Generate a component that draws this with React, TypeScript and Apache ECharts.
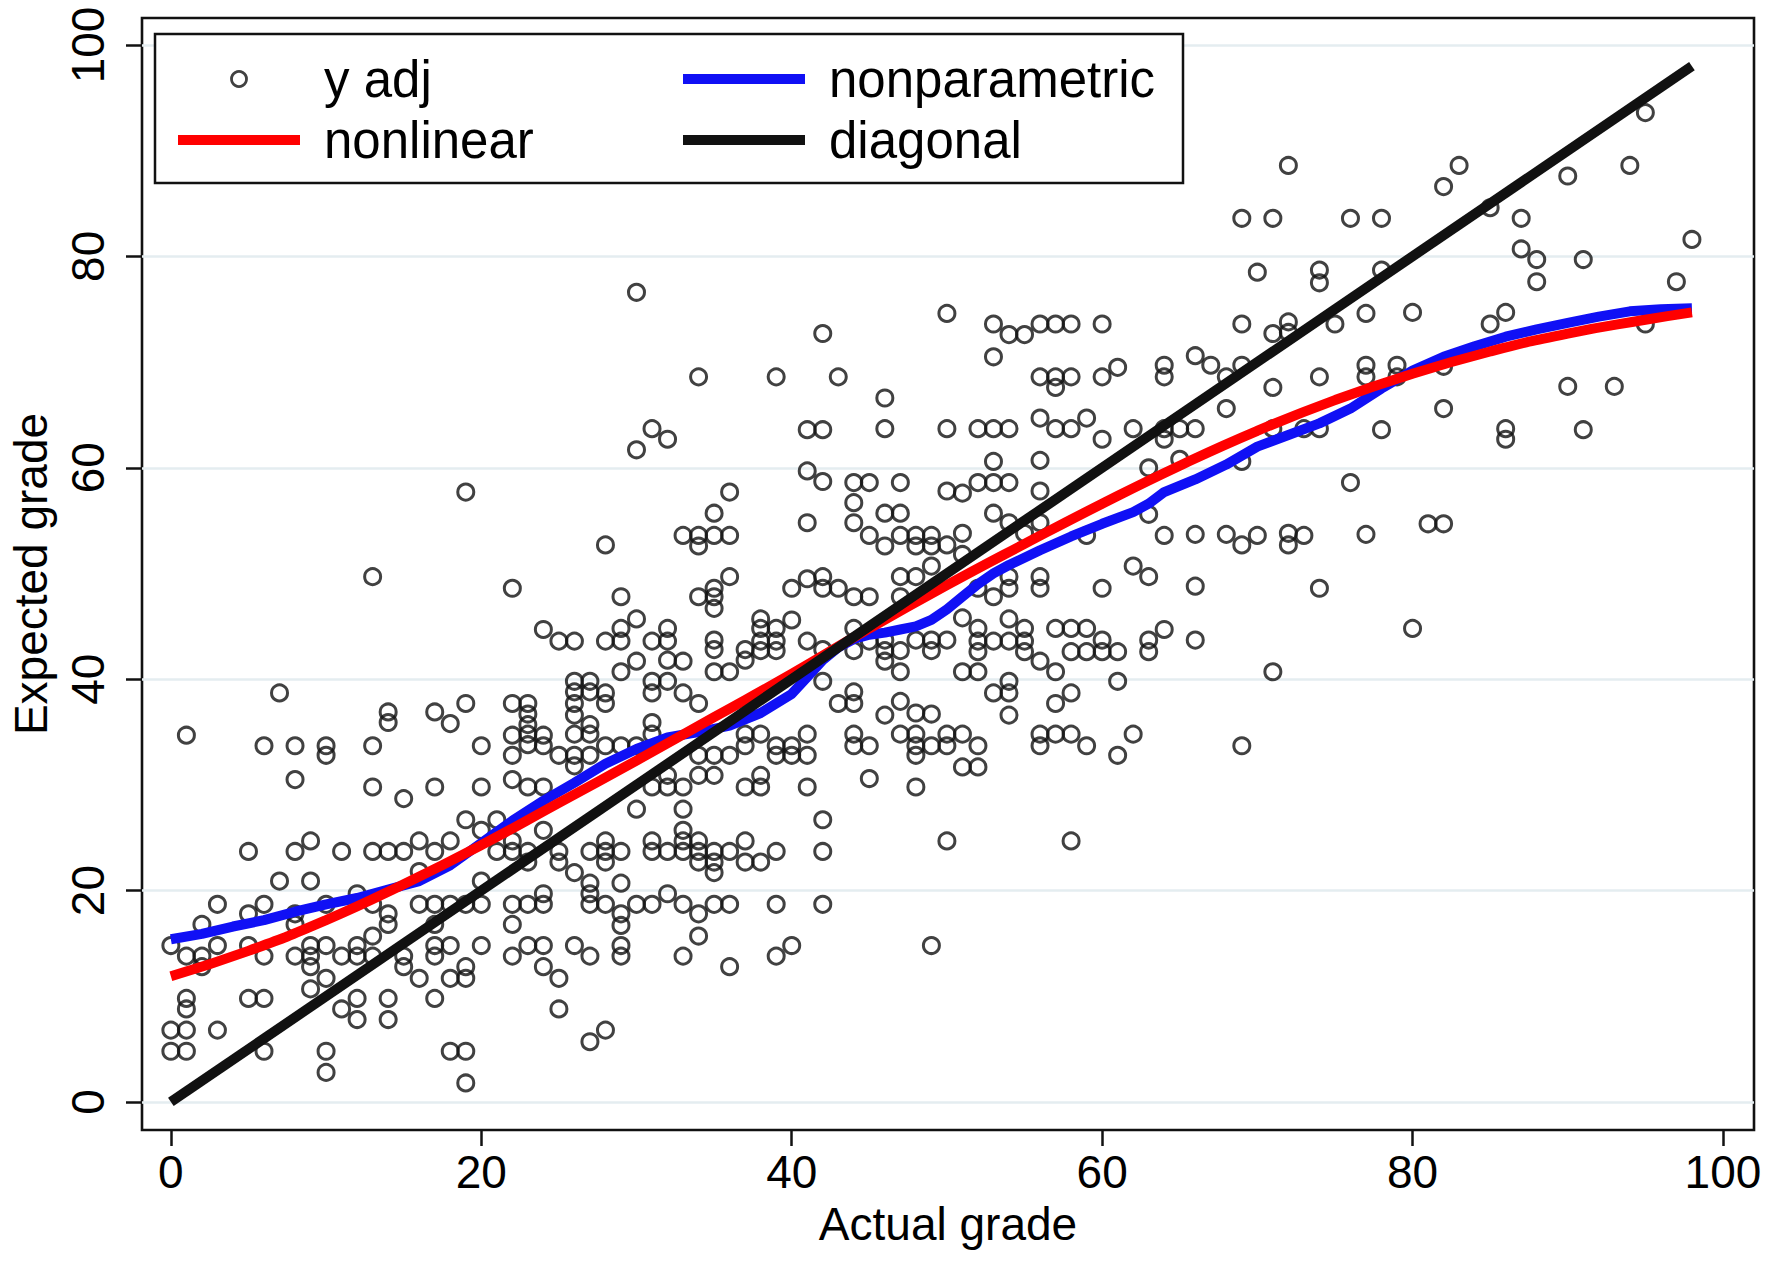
import { useEffect, useRef } from 'react';
import * as echarts from 'echarts';

// tick positions shared by both axes
const TICKS = [0, 20, 40, 60, 80, 100];

// observed points (actual grade, adjusted expected grade)
const Y_ADJ: [number, number][] = [
  // x 0-24, lower band
  [8, 30.5], [22, 30.5], [13, 29.8], [17, 29.8], [20, 29.8], [23, 29.8], [24, 29.8],
  [15, 28.7], [19, 26.7], [21, 26.7], [20, 25.7], [24, 25.7],
  [9, 24.7], [16, 24.7], [18, 24.7], [22, 24.7],
  [5, 23.7], [8, 23.7], [11, 23.7], [13, 23.7], [14, 23.7], [15, 23.7], [17, 23.7], [21, 23.7], [22, 23.7], [23, 23.7],
  [23, 22.7], [16, 21.8], [7, 20.9], [9, 20.9], [20, 20.9], [12, 19.7], [24, 19.7],
  [3, 18.7], [6, 18.7], [10, 18.7], [13, 18.7], [16, 18.7], [17, 18.7], [18, 18.7], [19, 18.7], [20, 18.7], [22, 18.7], [23, 18.7], [24, 18.7],
  [5, 17.8], [8, 17.8], [14, 17.8],
  [2, 16.8], [8, 16.8], [14, 16.8], [17, 16.8], [22, 16.8], [13, 15.7],
  [0, 14.8], [3, 14.8], [5, 14.8], [9, 14.8], [10, 14.8], [12, 14.8], [17, 14.8], [18, 14.8], [20, 14.8], [23, 14.8], [24, 14.8],
  [1, 13.8], [2, 13.8], [6, 13.8], [8, 13.8], [9, 13.8], [11, 13.8], [12, 13.8], [13, 13.8], [15, 13.8], [17, 13.8], [22, 13.8],
  [2, 12.8], [9, 12.8], [15, 12.8], [19, 12.8], [24, 12.8],
  [10, 11.7], [16, 11.7], [18, 11.7], [19, 11.7], [9, 10.7],
  [1, 9.8], [5, 9.8], [6, 9.8], [12, 9.8], [14, 9.8], [17, 9.8],
  [1, 8.8], [11, 8.8], [12, 7.8], [14, 7.8], [0, 6.8], [1, 6.8], [3, 6.8],
  [0, 4.8], [1, 4.8], [6, 4.8], [10, 4.8], [18, 4.8], [19, 4.8], [10, 2.8], [19, 1.8],
  // x 0-24, upper band
  [19, 57.7], [13, 49.7], [22, 48.6], [24, 44.7], [7, 38.7], [19, 37.7], [22, 37.7], [23, 37.7],
  [23, 36.7], [23, 35.7], [23, 34.8], [23, 33.8], [14, 36.9], [14, 35.9], [17, 36.9], [18, 35.8],
  [1, 34.7], [22, 34.7], [24, 34.7], [6, 33.7], [8, 33.7], [10, 33.7], [10, 32.8], [13, 33.7],
  [20, 33.7], [24, 33.7], [22, 32.8],
  // x 25-50, lower band
  [31, 29.8], [32, 29.8], [33, 29.8], [37, 29.8], [38, 29.8], [41, 29.8], [48, 29.8],
  [30, 27.7], [33, 27.7], [42, 26.7], [33, 25.7],
  [28, 24.7], [31, 24.7], [33, 24.7], [34, 24.7], [37, 24.7], [50, 24.7], [58, 24.7],
  [25, 23.7], [27, 23.7], [28, 23.7], [29, 23.7], [31, 23.7], [32, 23.7], [33, 23.7], [34, 23.7], [35, 23.7], [36, 23.7], [39, 23.7], [42, 23.7],
  [25, 22.7], [28, 22.7], [34, 22.7], [35, 22.7], [37, 22.7], [38, 22.7],
  [26, 21.7], [35, 21.7], [27, 20.7], [29, 20.7], [27, 19.7], [32, 19.7],
  [27, 18.7], [28, 18.7], [30, 18.7], [31, 18.7], [33, 18.7], [35, 18.7], [36, 18.7], [39, 18.7], [42, 18.7],
  [29, 17.8], [34, 17.8], [29, 16.7], [34, 15.7],
  [26, 14.8], [29, 14.8], [40, 14.8], [49, 14.8], [27, 13.8], [29, 13.8], [33, 13.8], [39, 13.8],
  [36, 12.8], [25, 11.7], [25, 8.8], [28, 6.8], [27, 5.7],
  // x 25-49, middle band
  [41, 59.7], [42, 58.7], [44, 58.6], [45, 58.6], [47, 58.6], [36, 57.7], [44, 56.7], [35, 55.7],
  [46, 55.7], [47, 55.7], [41, 54.8], [44, 54.8], [33, 53.6], [34, 53.6], [35, 53.6], [36, 53.6],
  [34, 52.6], [28, 52.7], [45, 53.6], [46, 52.6], [47, 53.6], [48, 53.6], [48, 52.6], [49, 53.6],
  [49, 52.6], [49, 50.7], [36, 49.7], [41, 49.5], [42, 49.7], [42, 48.6], [43, 48.6], [40, 48.6],
  [47, 49.7], [48, 49.7], [29, 47.8], [34, 47.8], [35, 48.6], [35, 47.8], [35, 46.7], [44, 47.8],
  [45, 47.8], [47, 47.8], [30, 45.7], [29, 44.8], [38, 45.7], [38, 44.8], [39, 44.8], [40, 45.6],
  [25, 43.6], [26, 43.6], [28, 43.6], [29, 43.6], [31, 43.6], [32, 44.8], [32, 43.6], [35, 43.7],
  [35, 42.8], [38, 43.6], [39, 43.6], [41, 43.6], [37, 42.8], [38, 42.7], [39, 42.7], [37, 41.8],
  [44, 44.8], [46, 43.7], [48, 43.7], [49, 43.7], [42, 42.8], [44, 42.7], [45, 43.6], [46, 42.7],
  [47, 42.7], [49, 42.7], [46, 41.7], [47, 40.7], [30, 41.7], [32, 41.8], [33, 41.7], [29, 40.7],
  [35, 40.7], [36, 40.7], [26, 39.8], [27, 39.8], [26, 38.8], [27, 38.8], [28, 38.7], [26, 37.7],
  [28, 37.7], [26, 36.6], [31, 39.8], [31, 38.7], [32, 39.8], [33, 38.7], [34, 37.7], [42, 39.8],
  [44, 38.8], [43, 37.7], [44, 37.7], [47, 37.9], [46, 36.6], [48, 36.8], [49, 36.7], [27, 35.7],
  [26, 34.8], [27, 34.8], [31, 35.9], [31, 34.8], [37, 34.8], [38, 34.8], [41, 34.8], [44, 34.8],
  [44, 33.7], [45, 33.7], [47, 34.8], [48, 34.8], [48, 33.7], [49, 33.7], [48, 32.8], [25, 32.8],
  [26, 32.8], [27, 32.8], [28, 33.7], [29, 33.7], [30, 33.7], [26, 31.8], [37, 33.7], [39, 33.7],
  [40, 33.7], [39, 32.8], [40, 32.8], [41, 32.8], [34, 32.8], [35, 32.8], [36, 32.8], [32, 30.9],
  [34, 30.9], [35, 30.9], [38, 30.9], [45, 30.6],
  // x 25-49, upper band
  [30, 76.6], [42, 72.7], [34, 68.6], [39, 68.6], [43, 68.6], [46, 66.6], [31, 63.7], [32, 62.7],
  [30, 61.7], [41, 63.6], [42, 63.6], [46, 63.7],
  // x 50-77, middle band
  [52, 58.6], [53, 58.6], [54, 58.6], [76, 58.6], [50, 57.8], [51, 57.6], [56, 57.8], [53, 55.7],
  [54, 54.8], [56, 54.8], [63, 55.6], [51, 53.8], [50, 52.7], [51, 51.8], [55, 53.8], [59, 53.6],
  [64, 53.6], [66, 53.7], [68, 53.7], [69, 52.7], [70, 53.6], [72, 53.8], [72, 52.7], [73, 53.6],
  [77, 53.7], [62, 50.7], [63, 49.7], [54, 49.7], [56, 49.7], [54, 48.6], [56, 48.6], [52, 48.6],
  [53, 47.8], [60, 48.6], [66, 48.8], [74, 48.6], [51, 45.8], [54, 45.7], [52, 44.8], [55, 44.8],
  [57, 44.8], [58, 44.8], [59, 44.8], [50, 43.7], [52, 43.6], [53, 43.6], [54, 43.6], [55, 43.6],
  [52, 42.6], [55, 42.6], [58, 42.6], [59, 42.6], [60, 43.7], [60, 42.6], [61, 42.6], [63, 43.7],
  [63, 42.6], [64, 44.7], [66, 43.7], [56, 41.7], [57, 40.7], [51, 40.7], [52, 40.7], [71, 40.7],
  [54, 39.8], [54, 38.7], [53, 38.7], [54, 36.6], [61, 39.8], [58, 38.7], [57, 37.7], [50, 34.8],
  [51, 34.8], [50, 33.7], [52, 33.7], [56, 34.8], [56, 33.7], [57, 34.8], [58, 34.8], [59, 33.7],
  [62, 34.8], [61, 32.8], [69, 33.7], [51, 31.7], [52, 31.7],
  // x 50-77, upper band
  [72, 88.6], [69, 83.6], [71, 83.6], [76, 83.6], [70, 78.5], [74, 78.7], [74, 77.5], [50, 74.6],
  [53, 73.6], [54, 72.6], [55, 72.6], [56, 73.6], [57, 73.6], [58, 73.6], [60, 73.6], [69, 73.6],
  [71, 72.7], [72, 73.8], [72, 72.8], [75, 73.6], [77, 74.6], [53, 70.5], [56, 68.6], [57, 68.6],
  [57, 67.6], [58, 68.6], [60, 68.6], [61, 69.5], [64, 69.7], [64, 68.6], [66, 70.6], [67, 69.7],
  [68, 68.6], [69, 69.7], [71, 67.6], [74, 68.6], [77, 69.7], [77, 68.6], [68, 65.6], [50, 63.7],
  [52, 63.7], [53, 63.7], [54, 63.7], [56, 64.7], [57, 63.7], [58, 63.7], [59, 64.7], [60, 62.7],
  [62, 63.7], [64, 63.7], [64, 62.7], [65, 63.7], [66, 63.7], [71, 63.7], [73, 63.7], [74, 63.7],
  [53, 60.6], [56, 60.7], [63, 60], [65, 60.8], [69, 60.6],
  // x 78-98
  [83, 88.6], [82, 86.6], [90, 87.6], [94, 88.6], [95, 93.6], [78, 83.6], [85, 84.6], [87, 83.6],
  [98, 81.6], [87, 80.7], [88, 79.7], [91, 79.7], [78, 78.7], [88, 77.6], [97, 77.6], [80, 74.7],
  [85, 73.6], [86, 74.7], [95, 73.6], [79, 69.7], [79, 68.6], [82, 69.6], [90, 67.7], [93, 67.7],
  [82, 65.6], [78, 63.6], [86, 63.7], [86, 62.7], [91, 63.6], [81, 54.7], [82, 54.7], [80, 44.8],
];

// lowess-type fit
const NONPARAMETRIC: [number, number][] = [
  [0, 15.4], [2, 15.9], [4, 16.6], [6, 17.2], [8, 18.0], [10, 18.7], [12, 19.3], [14, 20.1],
  [16, 20.9], [18, 22.4], [20, 24.5], [22, 26.6], [24, 28.5], [26, 30.2], [28, 32.0], [30, 33.4],
  [32, 34.5], [34, 35.0], [36, 35.6], [38, 36.8], [40, 38.6], [41, 40.2], [42, 41.8], [43, 43.0],
  [44, 43.8], [45, 44.2], [46, 44.4], [47, 44.7], [48, 45.0], [49, 45.6], [50, 46.6], [51, 47.8],
  [52, 49.0], [53, 50.0], [54, 50.8], [56, 52.2], [58, 53.5], [60, 54.7], [62, 55.8], [63, 56.6],
  [64, 57.7], [66, 58.9], [68, 60.3], [70, 62.0], [72, 63.1], [74, 64.2], [76, 65.6], [78, 67.5],
  [80, 69.2], [82, 70.5], [84, 71.5], [86, 72.4], [88, 73.1], [90, 73.7], [92, 74.3], [94, 74.8],
  [96, 75.0], [98, 75.1],
];

// parametric (nonlinear) fit
const NONLINEAR: [number, number][] = [
  [0, 11.9], [5, 14.3], [10, 17.2], [15, 20.6], [20, 24.3], [25, 28.3], [30, 32.3], [35, 36.4],
  [40, 40.5], [45, 44.8], [50, 48.9], [55, 52.8], [60, 56.6], [65, 60.2], [70, 63.5], [75, 66.4],
  [80, 68.9], [85, 71.0], [90, 72.7], [95, 74.0], [98, 74.7],
];

const DIAGONAL: [number, number][] = [[0, 0], [98, 98]];

const FONT = '"Liberation Sans", Arial, Helvetica, sans-serif';

export default function App() {
  const chartRef = useRef<HTMLDivElement>(null);

  useEffect(() => {
    if (!chartRef.current) return;
    const chart = echarts.init(chartRef.current, undefined, { renderer: 'svg' });

    const tickLine = { color: '#111', width: 2.5 };
    const legendText = {
      fontSize: 51,
      lineHeight: 61,
      color: '#000',
      fontFamily: FONT,
      padding: [0, 0, 0, 19],
    };
    const hideDot = { opacity: 0 };

    const option: any = {
      animation: false,
      textStyle: { fontFamily: FONT, color: '#000' },
      grid: {
        left: 137,
        right: 18,
        top: 18,
        bottom: 132,
        show: true,
        borderColor: '#111',
        borderWidth: 2.6,
        backgroundColor: '#fff',
      },
      xAxis: {
        type: 'value',
        min: -1.86,
        max: 102,
        name: 'Actual grade',
        nameLocation: 'middle',
        nameGap: 71,
        nameTextStyle: { fontSize: 46, color: '#000', fontFamily: FONT },
        axisLine: { show: false, onZero: false },
        axisTick: { show: true, length: 16, customValues: TICKS, lineStyle: tickLine },
        axisLabel: { customValues: TICKS, fontSize: 46, margin: 19, color: '#000', fontFamily: FONT },
        splitLine: { show: false },
      },
      yAxis: {
        type: 'value',
        min: -2.65,
        max: 102.55,
        name: 'Expected grade',
        nameLocation: 'middle',
        nameGap: 88,
        nameTextStyle: { fontSize: 46, color: '#000', fontFamily: FONT },
        axisLine: { show: false, onZero: false },
        axisTick: { show: true, length: 16, customValues: TICKS, lineStyle: tickLine },
        axisLabel: { customValues: TICKS, rotate: 90, fontSize: 46, margin: 31, color: '#000', fontFamily: FONT },
        splitLine: { show: true, lineStyle: { color: '#e4edf0', width: 2.5 } },
      },
      graphic: [
        {
          type: 'rect',
          z: 3,
          shape: { x: 155, y: 34, width: 1028, height: 149 },
          style: { fill: '#fff', stroke: '#111', lineWidth: 2.5 },
        },
      ],
      legend: [
        {
          orient: 'vertical',
          left: 173,
          top: 48.5,
          padding: 0,
          itemGap: 0,
          itemWidth: 122,
          itemHeight: 15,
          textStyle: legendText,
          lineStyle: { width: 10 },
          data: [
            {
              name: 'y adj',
              icon: 'circle',
              itemStyle: { color: 'rgba(0,0,0,0)', borderColor: '#111', borderWidth: 2.8 },
            },
            { name: 'nonlinear', itemStyle: hideDot },
          ],
        },
        {
          orient: 'vertical',
          left: 678,
          top: 48.5,
          padding: 0,
          itemGap: 0,
          itemWidth: 122,
          itemHeight: 15,
          textStyle: legendText,
          lineStyle: { width: 10 },
          data: [
            { name: 'nonparametric', itemStyle: hideDot },
            { name: 'diagonal', itemStyle: hideDot },
          ],
        },
      ],
      series: [
        {
          name: 'y adj',
          type: 'scatter',
          data: Y_ADJ,
          symbol: 'circle',
          symbolSize: 16,
          itemStyle: { color: 'rgba(0,0,0,0)', borderColor: '#111', borderWidth: 3 },
          silent: true,
          z: 2,
        },
        {
          name: 'nonparametric',
          type: 'line',
          data: NONPARAMETRIC,
          symbol: 'none',
          color: '#1010f5',
          lineStyle: { color: '#1010f5', width: 10 },
          silent: true,
          z: 3,
        },
        {
          name: 'nonlinear',
          type: 'line',
          data: NONLINEAR,
          symbol: 'none',
          smooth: true,
          color: '#ff0000',
          lineStyle: { color: '#ff0000', width: 10 },
          silent: true,
          z: 4,
        },
        {
          name: 'diagonal',
          type: 'line',
          data: DIAGONAL,
          symbol: 'none',
          color: '#111',
          lineStyle: { color: '#111', width: 10 },
          silent: true,
          z: 5,
        },
      ],
    };

    chart.setOption(option);

    const handleResize = () => chart.resize();
    window.addEventListener('resize', handleResize);
    return () => {
      window.removeEventListener('resize', handleResize);
      chart.dispose();
    };
  }, []);

  return (
    <div
      ref={chartRef}
      style={{ position: 'absolute', left: 0, top: 0, width: 1772, height: 1262, background: '#fff' }}
    />
  );
}
